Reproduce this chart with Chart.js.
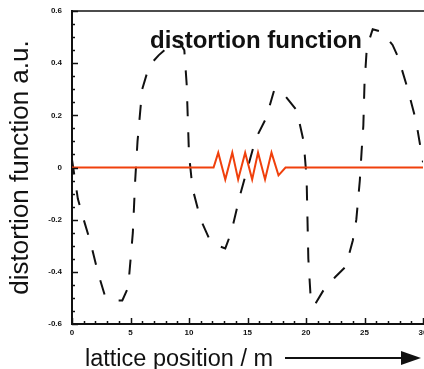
<!DOCTYPE html>
<html>
<head>
<meta charset="utf-8">
<script src="https://cdn.jsdelivr.net/npm/chart.js@4.4.1/dist/chart.umd.min.js"></script>
<style>
    html, body { margin: 0; padding: 0; background: #fff; }
    #wrap { width: 424px; height: 369px; }
</style>
</head>
<body>
<div id="wrap"><canvas id="chart" width="424" height="369"></canvas></div>
<script>
// =========================
// DATA
// =========================

// dashed black curve (lattice position in m, distortion in a.u.)
const distX = [0, 0.5, 1.0, 1.6, 2.2, 2.8, 3.6, 4.3, 4.8, 5.2, 5.4, 5.6, 6.0, 6.6, 7.4, 8.4, 9.2, 9.6, 9.8, 10.0, 10.3, 11.0, 11.8, 12.5, 13.1, 13.6, 14.4, 15.7, 16.6, 17.3, 17.8, 18.3, 19.2, 19.8, 20.05, 20.2, 20.4, 20.7, 21.5, 22.5, 23.4, 24.0, 24.3, 24.6, 24.75, 24.9, 25.0, 25.2, 25.7, 26.5, 27.4, 27.9, 28.7, 29.4, 30];
const distY = [0.03, -0.12, -0.2, -0.29, -0.4, -0.49, -0.51, -0.51, -0.46, -0.25, -0.05, 0.1, 0.3, 0.39, 0.43, 0.47, 0.48, 0.45, 0.32, 0.05, -0.08, -0.2, -0.28, -0.3, -0.31, -0.25, -0.1, 0.11, 0.19, 0.3, 0.29, 0.27, 0.22, 0.1, -0.04, -0.35, -0.5, -0.53, -0.47, -0.42, -0.38, -0.28, -0.2, -0.05, 0.06, 0.16, 0.32, 0.46, 0.53, 0.52, 0.47, 0.42, 0.3, 0.18, 0.02];

// red zigzag on the zero line
const zigX = [0, 12.1, 12.5, 13.1, 13.7, 14.2, 14.8, 15.4, 15.9, 16.5, 17.05, 17.65, 18.25, 30];
const zigY = [0, 0, 0.057, -0.046, 0.057, -0.046, 0.057, -0.046, 0.057, -0.046, 0.057, -0.03, 0, 0];

const xTicks = [0, 5, 10, 15, 20, 25, 30];
const yTicks = ["-0.6", "-0.4", "-0.2", "0", "0.2", "0.4", "0.6"];

const chartTitle = "distortion function";
const xTitle = "lattice position / m";
const yTitle = "distortion function a.u.";

// =========================
// HELPERS
// =========================

function toPoints(xs, ys) {
    return xs.map((x, i) => ({ x: x, y: ys[i] }));
}

function fmtY(v) {
    const r = Math.round(v * 10) / 10;
    if (r === 0) return "0";
    return r.toFixed(1);
}

// =========================
// FRAME / TICKS / TITLE PLUGIN
// =========================

const framePlugin = {
    id: "frame",
    afterDraw(chart) {
        const ctx = chart.ctx;
        const area = chart.chartArea;
        const xs = chart.scales.x;
        const ys = chart.scales.y;

        ctx.save();
        ctx.strokeStyle = "#111";

        // top border
        ctx.lineWidth = 1.5;
        ctx.beginPath();
        ctx.moveTo(area.left, area.top);
        ctx.lineTo(chart.width, area.top);
        ctx.stroke();

        // inward ticks
        ctx.lineWidth = 1.5;
        for (let i = -12; i <= 12; i++) {
            const py = Math.round(ys.getPixelForValue(i * 0.05)) + 0.5;
            const len = (i % 4 === 0) ? 6 : 3;
            ctx.beginPath();
            ctx.moveTo(area.left, py);
            ctx.lineTo(area.left + len, py);
            ctx.stroke();
        }
        for (let i = 0; i <= 30; i++) {
            const px = Math.round(xs.getPixelForValue(i)) + 0.5;
            const len = (i % 5 === 0) ? 6 : 3;
            ctx.beginPath();
            ctx.moveTo(px, area.bottom);
            ctx.lineTo(px, area.bottom - len);
            ctx.stroke();
        }

        // title inside the plot
        ctx.fillStyle = "#111";
        ctx.font = "bold 24px 'Liberation Sans', Arial, sans-serif";
        ctx.textAlign = "center";
        ctx.textBaseline = "alphabetic";
        ctx.fillText(chartTitle, 256, 48);

        // x axis title and arrow
        ctx.font = "23.5px 'Liberation Sans', Arial, sans-serif";
        ctx.textAlign = "left";
        ctx.fillText(xTitle, 85, 366);

        ctx.lineWidth = 2;
        ctx.beginPath();
        ctx.moveTo(285, 358);
        ctx.lineTo(404, 358);
        ctx.stroke();
        ctx.beginPath();
        ctx.moveTo(421, 358);
        ctx.lineTo(401, 351);
        ctx.lineTo(401, 365);
        ctx.closePath();
        ctx.fill();

        ctx.restore();
    }
};

// =========================
// CHART
// =========================

const tickFont = { family: "'Liberation Sans', Arial, sans-serif", size: 8, weight: "bold" };

new Chart(document.getElementById("chart"), {
    type: "line",
    data: {
        datasets: [
            {
                label: "zigzag",
                data: toPoints(zigX, zigY),
                borderColor: "#f0400c",
                borderWidth: 2,
                pointRadius: 0,
                tension: 0,
                order: 0
            },
            {
                label: "distortion",
                data: toPoints(distX, distY),
                borderColor: "#111",
                borderWidth: 2,
                borderDash: [15, 16],
                pointRadius: 0,
                tension: 0,
                order: 1
            }
        ]
    },
    options: {
        responsive: false,
        animation: false,
        devicePixelRatio: 1,
        layout: { padding: { top: 11, right: 1, left: 0, bottom: 0 } },
        plugins: {
            legend: { display: false },
            tooltip: { enabled: false }
        },
        scales: {
            x: {
                type: "linear",
                min: 0,
                max: 30,
                afterFit(scale) {
                    scale.height = 45;
                    scale.paddingLeft = 0;
                    scale.paddingRight = 0;
                },
                afterBuildTicks(scale) { scale.ticks = xTicks.map(v => ({ value: v })); },
                grid: { display: false, drawTicks: false },
                border: { display: true, color: "#111", width: 2 },
                ticks: {
                    font: tickFont,
                    color: "#111",
                    padding: 4,
                    maxRotation: 0,
                    callback: v => String(v)
                }
            },
            y: {
                type: "linear",
                min: -0.6,
                max: 0.6,
                afterFit(scale) {
                    scale.width = 72;
                    scale.paddingTop = 0;
                    scale.paddingBottom = 0;
                },
                afterBuildTicks(scale) { scale.ticks = yTicks.map(t => ({ value: Number(t) })); },
                grid: { display: false, drawTicks: false },
                border: { display: true, color: "#111", width: 2 },
                ticks: {
                    font: tickFont,
                    color: "#111",
                    padding: 10,
                    callback: v => fmtY(v)
                },
                title: {
                    display: true,
                    text: yTitle,
                    color: "#111",
                    font: { family: "'Liberation Sans', Arial, sans-serif", size: 26, lineHeight: 1 },
                    padding: { top: 8, bottom: 0 }
                }
            }
        }
    },
    plugins: [framePlugin]
});
</script>
</body>
</html>
